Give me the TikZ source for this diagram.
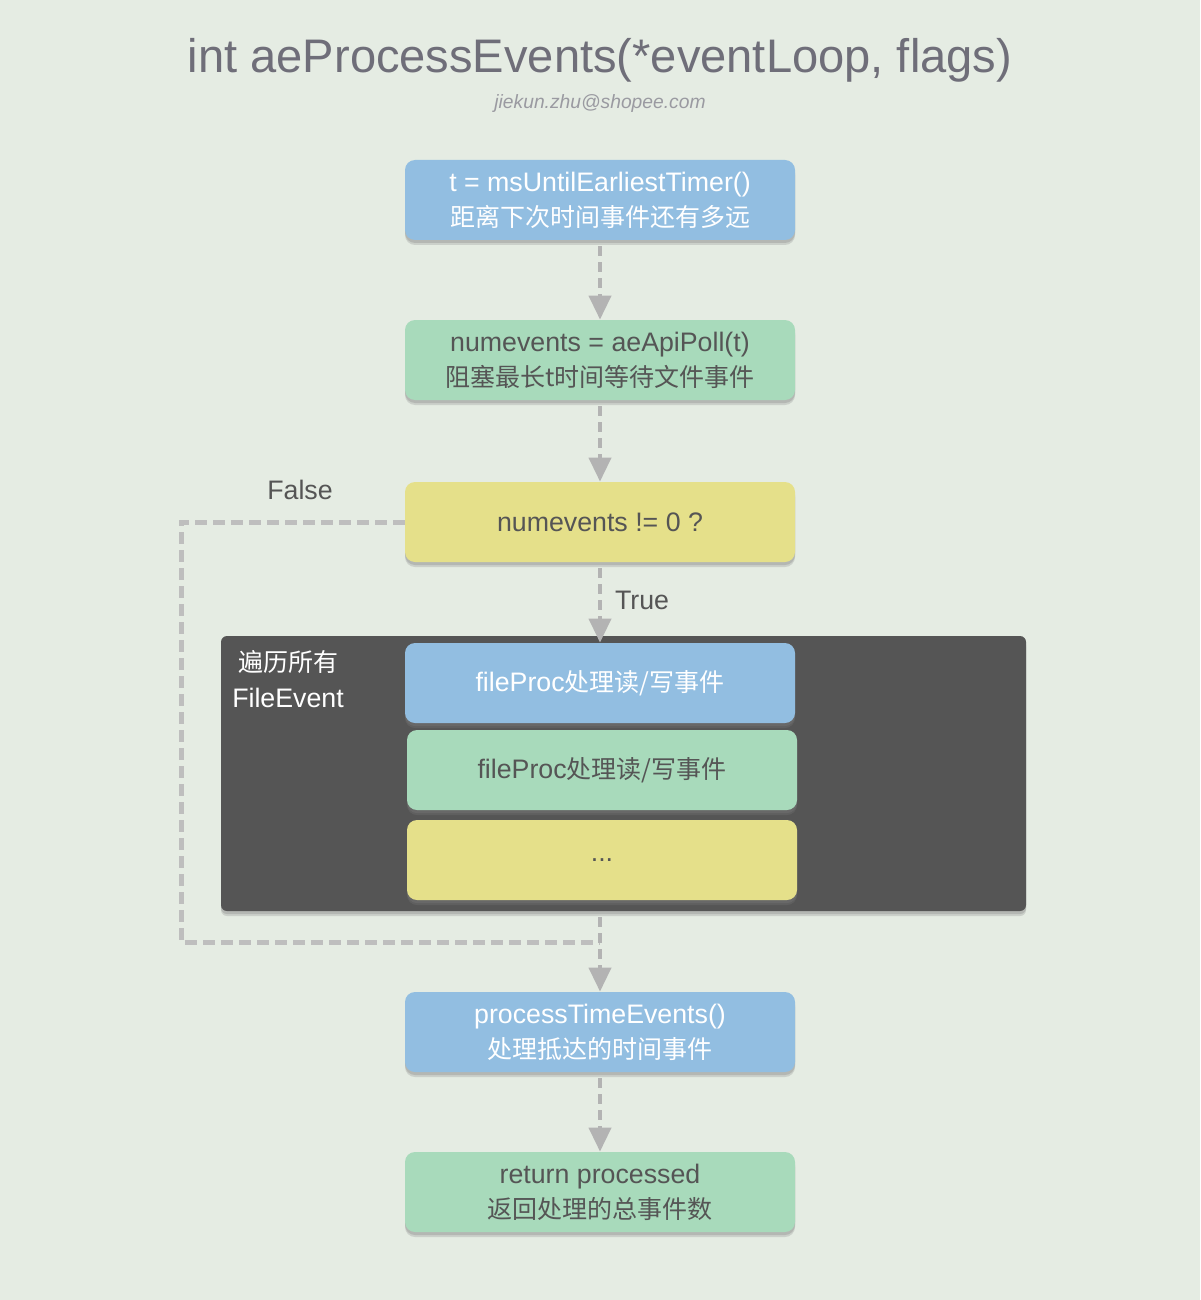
\documentclass[tikz,border=0pt]{standalone}
\usepackage{fontspec}
\setmainfont{Liberation Sans}[Scale=1.07]
\newfontfamily\cjk{Noto Sans CJK SC}
\usetikzlibrary{arrows.meta,shadows}

\definecolor{bgcol}{HTML}{E5ECE3}
\definecolor{bluefill}{HTML}{92BEE1}
\definecolor{greenfill}{HTML}{A8DABB}
\definecolor{yellowfill}{HTML}{E5E08A}
\definecolor{panelcol}{HTML}{555555}
\definecolor{arrowgray}{HTML}{B3B3B3}
\definecolor{textgray}{HTML}{555555}
\definecolor{titlegray}{HTML}{6F6E79}

\newcommand{\zh}[1]{{\cjk #1}}

\tikzset{
	softshadow/.style={drop shadow={shadow xshift=0pt, shadow yshift=-2.5pt, opacity=0.25},
		drop shadow={shadow xshift=0pt, shadow yshift=-1.5pt, opacity=0.3}},
	box/.style={rounded corners=5pt, minimum width=195pt, minimum height=40pt,
		align=center, font=\fontsize{12.5}{17.5}\selectfont, softshadow},
	bluebox/.style={box, fill=bluefill, text=white},
	greenbox/.style={box, fill=greenfill, text=textgray},
	yellowbox/.style={box, fill=yellowfill, text=textgray},
	flow/.style={draw=arrowgray, line width=2pt, dash pattern=on 5pt off 3pt,
		shorten <=3pt, -{Triangle[width=11pt,length=12pt]}},
	backline/.style={draw=arrowgray!85, line width=2.5pt, dash pattern=on 6pt off 3pt}
}

\begin{document}
\begin{tikzpicture}[x=0.5pt,y=-0.5pt]
	
	\fill[bgcol] (0,0) rectangle (1200,1300);
	\useasboundingbox (0,0) rectangle (1200,1300);
	
	% title
	\node[text=titlegray, font=\fontsize{22}{26}\selectfont] (title) at (600,60) {int aeProcessEvents(*eventLoop, flags)};
	\node[text=titlegray!70, font=\itshape\fontsize{9}{11}\selectfont] (mail) at (600,104) {jiekun.zhu@shopee.com};
	
	% steps
	\node[bluebox] (timer) at (600,200) {t = msUntilEarliestTimer()\\\zh{距离下次时间事件还有多远}};
	\node[greenbox] (poll) at (600,360) {numevents = aeApiPoll(t)\\\zh{阻塞最长t时间等待文件事件}};
	\node[yellowbox] (check) at (600,522) {numevents != 0 ?};
	
	% loop over file events
	\node[fill=panelcol, rounded corners=3pt, minimum width=402.5pt, minimum height=137.5pt,
		softshadow] (loop) at (623.5,773.5) {};
	\node[text=white, align=center, font=\fontsize{12.5}{18}\selectfont] (looplabel) at (288,679) {\zh{遍历所有}\\FileEvent};
	\node[bluebox] (fileA) at (600,683) {fileProc\zh{处理读/写事件}};
	\node[greenbox] (fileB) at (602,770) {fileProc\zh{处理读/写事件}};
	\node[yellowbox] (fileC) at (602,860) {...};
	
	\node[bluebox] (proc) at (600,1032) {processTimeEvents()\\\zh{处理抵达的时间事件}};
	\node[greenbox] (ret) at (600,1192) {return processed\\\zh{返回处理的总事件数}};
	
	% connectors
	\draw[flow] (timer) -- (poll);
	\draw[flow] (poll) -- (check);
	\draw[flow] (check) -- (fileA);
	\node[text=textgray, font=\fontsize{12.5}{15}\selectfont] (truelabel) at (642,600) {True};
	
	\coordinate (back) at (181,942);
	\coordinate (join) at (600,942);
	\draw[backline] (check.west) -- (check.west -| back) -- (back) -- (join);
	\node[text=textgray, font=\fontsize{12.5}{15}\selectfont] (falselabel) at (300,490) {False};
	
	\draw[flow] (loop.south -| proc) -- (proc);
	\draw[flow] (proc) -- (ret);
	
\end{tikzpicture}
\end{document}
